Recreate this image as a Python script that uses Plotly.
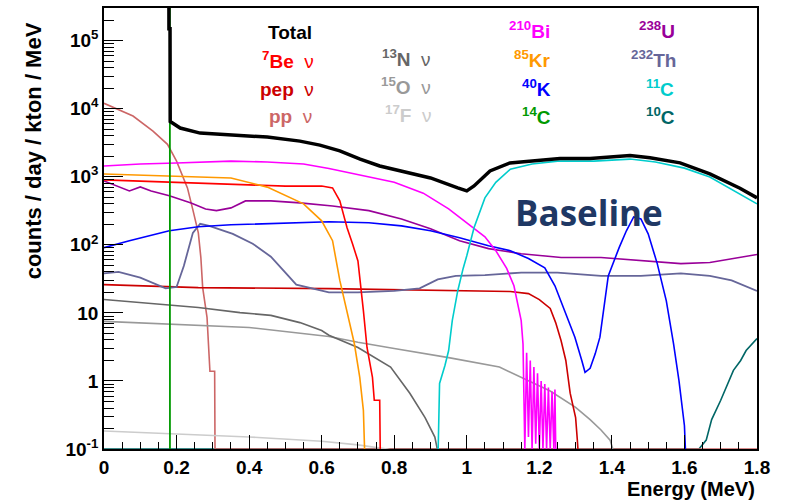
import plotly.graph_objects as go

# ---------------- data: energy (MeV) / rate (counts/day/kton/MeV) ----------------
total_E = [0.0, 0.1785, 0.179, 0.182, 0.1825, 0.21, 0.265, 0.45, 0.54, 0.595, 0.65, 0.706, 0.76, 0.816,
           0.9, 0.975, 1.0, 1.02, 1.064, 1.119, 1.174, 1.257, 1.34, 1.45, 1.505, 1.588, 1.67, 1.753, 1.8]
total_y = [1e7, 1e7, 1.5e5, 1.5e5, 6.5e3, 5.2e3, 4380, 3830, 3340, 2920, 2400, 1820, 1440, 1220,
           960, 686, 620, 733, 1220, 1600, 1700, 1850, 1850, 2060, 1900, 1600, 1100, 680, 490]

be7_E = [0.0, 0.18, 0.35, 0.5, 0.6, 0.63, 0.65, 0.67, 0.685, 0.7, 0.715, 0.725, 0.74, 0.745, 0.76, 0.762]
be7_y = [900, 840, 785, 730, 730, 686, 442, 178, 104, 58, 10.8, 3.1, 1.13, 0.52, 0.52, 0.05]

pep_E = [0.0, 0.26, 0.62, 0.8, 1.0, 1.12, 1.17, 1.2, 1.23, 1.245, 1.26, 1.273, 1.285, 1.3, 1.305, 1.31]
pep_y = [26, 23.5, 22.7, 22, 21.3, 20.6, 19.2, 15.7, 11.6, 7.2, 3.9, 2.0, 0.66, 0.29, 0.13, 0.05]

pp_E = [0.0, 0.08, 0.135, 0.175, 0.2, 0.23, 0.245, 0.26, 0.267, 0.272, 0.284, 0.29, 0.292, 0.305, 0.306, 1.8]
pp_y = [1.2e4, 7.8e3, 4.7e3, 3.0e3, 1.7e3, 686, 327, 150, 65, 23.5, 8.6, 2.4, 1.39, 1.39, 0.1, 0.1]

n13_E = [0.0, 0.1, 0.18, 0.26, 0.375, 0.46, 0.54, 0.6, 0.62, 0.7, 0.79, 0.843, 0.885, 0.912, 0.93]
n13_y = [15.7, 14.2, 12.8, 12.0, 10.1, 9.2, 7.2, 5.5, 4.7, 3.1, 1.6, 0.66, 0.29, 0.15, 0.05]

o15_E = [0.0, 0.18, 0.4, 0.62, 0.7, 0.8, 0.95, 1.09, 1.17, 1.23, 1.3, 1.34, 1.37, 1.395, 1.42]
o15_y = [7.5, 6.8, 6.1, 4.5, 3.7, 3.0, 2.2, 1.6, 1.02, 0.71, 0.41, 0.27, 0.19, 0.135, 0.05]

f17_E = [0.0, 0.18, 0.4, 0.6, 0.7, 0.78, 0.85]
f17_y = [0.184, 0.166, 0.15, 0.13, 0.115, 0.1, 0.08]

bi210_E = [0.0, 0.1, 0.2, 0.35, 0.45, 0.55, 0.62, 0.72, 0.8, 0.88, 0.95, 1.0, 1.05, 1.08, 1.11, 1.13,
           1.15, 1.155, 1.16, 1.165, 1.17, 1.175, 1.18, 1.185, 1.19, 1.195, 1.2, 1.205, 1.21, 1.215,
           1.22, 1.225, 1.23, 1.235, 1.24, 1.243, 1.246, 1.25]
bi210_y = [1440, 1540, 1590, 1700, 1650, 1540, 1320, 1020, 830, 575, 337, 210, 131, 82, 45, 25,
           7.7, 3.5, 0.1, 2.6, 0.15, 2.0, 0.1, 1.6, 0.12, 1.3, 0.1, 1.0, 0.1, 0.9,
           0.1, 0.8, 0.1, 0.7, 0.1, 0.75, 0.05, 0.05]

kr85_E = [0.0, 0.18, 0.35, 0.45, 0.55, 0.6, 0.63, 0.65, 0.67, 0.69, 0.705, 0.715, 0.72]
kr85_y = [1100, 1020, 960, 705, 400, 225, 115, 30, 10.8, 3.55, 1.13, 0.37, 0.05]

k40_E = [0.0, 0.07, 0.18, 0.26, 0.35, 0.46, 0.62, 0.73, 0.82, 0.9, 0.98, 1.06, 1.12, 1.17, 1.215,
         1.243, 1.27, 1.298, 1.317, 1.326, 1.34, 1.354, 1.367, 1.39, 1.42, 1.44, 1.46, 1.48, 1.5,
         1.525, 1.55, 1.57, 1.585, 1.6, 1.605]
k40_y = [91, 115, 161, 184, 197, 204, 218, 211, 190, 161, 127, 97, 82, 63, 46,
         25, 10.8, 4.4, 2.0, 1.34, 1.53, 2.5, 4.4, 35, 91, 161, 257, 240, 145,
         53, 15, 3.5, 1.0, 0.22, 0.05]

c14_E = [0.0, 0.1815, 0.1818]
c14_y = [1e7, 1e7, 0.1]

u238_E = [0.0, 0.07, 0.1, 0.13, 0.18, 0.24, 0.28, 0.31, 0.35, 0.39, 0.46, 0.54, 0.63, 0.73, 0.82,
          0.9, 0.98, 1.06, 1.15, 1.26, 1.37, 1.48, 1.59, 1.67, 1.73, 1.8]
u238_y = [868, 620, 710, 620, 525, 413, 337, 318, 349, 442, 442, 413, 373, 318, 240,
          172, 115, 88, 74, 65, 65, 58, 53, 55, 63, 72]

th232_E = [0.0, 0.04, 0.1, 0.14, 0.17, 0.2, 0.22, 0.245, 0.265, 0.29, 0.355, 0.41, 0.46, 0.5, 0.53,
           0.62, 0.7, 0.8, 0.87, 0.92, 0.97, 1.05, 1.15, 1.25, 1.37, 1.48, 1.59, 1.67, 1.73, 1.8]
th232_y = [38, 40, 33, 27, 23, 24, 49, 150, 204, 190, 145, 104, 67, 39, 26,
           20, 20, 21, 23, 31, 35, 36, 39, 39, 35, 35, 38, 35, 30, 21]

c11_E = [0.92, 0.925, 0.94, 0.95, 0.96, 0.975, 0.99, 1.0, 1.02, 1.05, 1.08, 1.12, 1.18, 1.25, 1.35,
         1.45, 1.52, 1.6, 1.67, 1.73, 1.8]
c11_y = [0.05, 0.92, 1.7, 2.8, 7.7, 21, 45, 69, 178, 490, 830, 1290, 1540, 1700, 1700,
         1820, 1650, 1340, 990, 660, 400]

c10_E = [0.0, 1.64, 1.66, 1.675, 1.7, 1.715, 1.735, 1.755, 1.77, 1.8]
c10_y = [0.1, 0.1, 0.135, 0.27, 0.52, 0.81, 1.43, 2.0, 2.8, 4.2]

y_tick_vals = [0.1, 1, 10, 100, 1000, 10000, 100000]
y_tick_text = ["10<sup>-1</sup>", "1", "10", "10<sup>2</sup>", "10<sup>3</sup>", "10<sup>4</sup>", "10<sup>5</sup>"]
x_tick_vals = [0, 0.2, 0.4, 0.6, 0.8, 1.0, 1.2, 1.4, 1.6, 1.8]
x_tick_text = ["0", "0.2", "0.4", "0.6", "0.8", "1", "1.2", "1.4", "1.6", "1.8"]

# ---------------- figure ----------------
series = [
    (c10_E, c10_y, "#006666", 1.6),
    (pp_E, pp_y, "#cc6666", 1.6),
    (f17_E, f17_y, "#cccccc", 1.6),
    (o15_E, o15_y, "#999999", 1.6),
    (n13_E, n13_y, "#666666", 1.6),
    (pep_E, pep_y, "#cc0000", 1.6),
    (th232_E, th232_y, "#666699", 1.8),
    (u238_E, u238_y, "#990099", 1.6),
    (k40_E, k40_y, "#0000ff", 1.6),
    (be7_E, be7_y, "#ff0000", 1.6),
    (kr85_E, kr85_y, "#ff9900", 1.6),
    (bi210_E, bi210_y, "#ff00ff", 1.6),
    (c11_E, c11_y, "#00cccc", 1.6),
    (c14_E, c14_y, "#009900", 1.8),
    (total_E, total_y, "#000000", 3.5),
]

fig = go.Figure()
for ex, ey, col, w in series:
    fig.add_trace(go.Scatter(x=ex, y=ey, mode="lines", line=dict(color=col, width=w),
                             showlegend=False, hoverinfo="skip"))

L, R, T, B = 104, 36, 6, 53
W, H = 793, 502
pw, ph = W - L - R, H - T - B

def px(xp):
    return (xp - L) / pw

def py(yp):
    return (H - B - yp) / ph

tickfont = dict(family="Liberation Sans, Arial", size=19, color="black", weight="bold")

fig.update_layout(
    width=W, height=H,
    margin=dict(l=L, r=R, t=T, b=B),
    paper_bgcolor="white", plot_bgcolor="white",
    xaxis=dict(range=[0, 1.8], showgrid=False, zeroline=False,
               showline=True, linecolor="black", linewidth=1.5, mirror=True,
               ticks="inside", ticklen=14, tickcolor="black", tickwidth=1,
               tickmode="array", tickvals=x_tick_vals, ticktext=x_tick_text,
               tickfont=tickfont,
               minor=dict(ticks="inside", dtick=0.05, ticklen=7, tickcolor="black", tickwidth=1)),
    yaxis=dict(type="log", range=[-1, 5.48], showgrid=False, zeroline=False,
               showline=True, linecolor="black", linewidth=1.5, mirror=True,
               ticks="inside", ticklen=19, tickcolor="black", tickwidth=1,
               tickmode="array", tickvals=y_tick_vals, ticktext=y_tick_text,
               tickfont=tickfont,
               minor=dict(ticks="inside", ticklen=10, tickcolor="black", tickwidth=1,
                          tickvals=[m * 10.0 ** d for d in range(-1, 6) for m in range(2, 10)])),
)

ann = []
def label(text, color, x_right, y_center):
    ann.append(dict(text=text, x=px(x_right), y=py(y_center), xref="paper", yref="paper",
                    xanchor="right", yanchor="middle", showarrow=False,
                    font=dict(family="Liberation Sans, Arial", size=19, color=color)))

label("<b>Total</b>", "#000000", 314, 31)
label("<b><sup>7</sup>Be</b>  ν", "#ff0000", 316, 58)
label("<b>pep</b>  ν", "#cc0000", 316, 88)
label("<b>pp</b>  ν", "#cc6666", 314, 115)
label("<b><sup>13</sup>N</b>  ν", "#666666", 433, 56)
label("<b><sup>15</sup>O</b>  ν", "#999999", 433, 84)
label("<b><sup>17</sup>F</b>  ν", "#cccccc", 433, 112)
label("<b><sup>210</sup>Bi</b>", "#ff00ff", 552, 28)
label("<b><sup>85</sup>Kr</b>", "#ff9900", 553, 57)
label("<b><sup>40</sup>K</b>", "#0000ff", 553, 86)
label("<b><sup>14</sup>C</b>", "#009900", 553, 114)
label("<b><sup>238</sup>U</b>", "#990099", 677, 28)
label("<b><sup>232</sup>Th</b>", "#666699", 678, 57)
label("<b><sup>11</sup>C</b>", "#00cccc", 676, 86)
label("<b><sup>10</sup>C</b>", "#006666", 677, 114)

ann.append(dict(text="<b>Baseline</b>", x=px(589), y=py(211), xref="paper", yref="paper",
                xanchor="center", yanchor="middle", showarrow=False,
                font=dict(family="Open Sans", size=35, color="#1f3864")))
ann.append(dict(text="<b>Energy (MeV)</b>", x=1.0, y=py(489), xref="paper", yref="paper",
                xanchor="right", yanchor="middle", showarrow=False,
                font=dict(family="Liberation Sans, Arial", size=20, color="black")))
ann.append(dict(text="<b>counts / day / kton / MeV</b>", x=px(33), y=py(150), xref="paper", yref="paper",
                xanchor="center", yanchor="middle", showarrow=False, textangle=-90,
                font=dict(family="Liberation Sans, Arial", size=22, color="black")))
fig.update_layout(annotations=ann)

fig.write_html("out.html")
